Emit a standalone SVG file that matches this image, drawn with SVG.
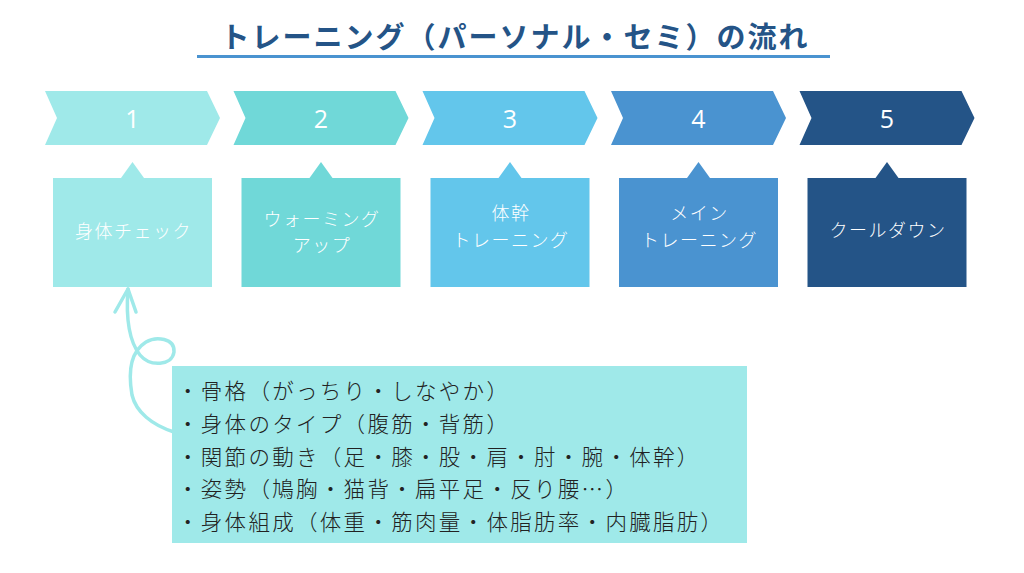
<svg xmlns="http://www.w3.org/2000/svg" xmlns:xlink="http://www.w3.org/1999/xlink" width="1024" height="573" viewBox="0 0 1024 573">
<style>
.title{font-family:"Noto Sans CJK JP","Noto Sans",sans-serif;font-weight:700;font-size:29px;fill:#245487;letter-spacing:2px}
.num{font-family:"Open Sans","Noto Sans",sans-serif;font-size:25px;fill:#ffffff;text-anchor:middle}
.lbl{font-family:"Noto Sans CJK JP","Noto Sans",sans-serif;font-weight:300;font-size:18px;fill:#ffffff;text-anchor:middle;letter-spacing:1.5px}
.item{font-family:"Noto Sans CJK JP","Noto Sans",sans-serif;font-weight:300;font-size:21.5px;fill:#222222;letter-spacing:2.3px}
.c1{fill:#9fe9e9}.c2{fill:#70d8d8}.c3{fill:#63c6eb}.c4{fill:#4a93d0}.c5{fill:#245487}
</style>
<defs>
<polygon id="chev" points="-87.5,91 74.5,91 87.5,118 74.5,145 -87.5,145 -75.5,118"/>
<path id="card" d="M-79.5,178 L-11.5,178 L0,162 L11.5,178 L79.5,178 L79.5,287 L-79.5,287 Z"/>
</defs>
<rect width="1024" height="573" fill="#ffffff"/>
<g id="title">
<text class="title" x="515" y="48" text-anchor="middle">トレーニング（パーソナル・セミ）の流れ</text>
<rect x="197" y="55" width="633" height="3" fill="#4a93d0"/>
</g>
<g id="step1">
<use xlink:href="#chev" href="#chev" x="132.5" class="c1"/>
<text class="num" x="132.5" y="128">1</text>
<use xlink:href="#card" href="#card" x="132.5" class="c1"/>
<text class="lbl" x="133.5" y="238">身体チェック</text>
</g>
<g id="step2">
<use xlink:href="#chev" href="#chev" x="321" class="c2"/>
<text class="num" x="321" y="128">2</text>
<use xlink:href="#card" href="#card" x="321" class="c2"/>
<text class="lbl" x="322" y="226">ウォーミング</text>
<text class="lbl" x="322" y="252">アップ</text>
</g>
<g id="step3">
<use xlink:href="#chev" href="#chev" x="510" class="c3"/>
<text class="num" x="510" y="128">3</text>
<use xlink:href="#card" href="#card" x="510" class="c3"/>
<text class="lbl" x="511" y="220">体幹</text>
<text class="lbl" x="511" y="247">トレーニング</text>
</g>
<g id="step4">
<use xlink:href="#chev" href="#chev" x="698.5" class="c4"/>
<text class="num" x="698.5" y="128">4</text>
<use xlink:href="#card" href="#card" x="698.5" class="c4"/>
<text class="lbl" x="699.5" y="220">メイン</text>
<text class="lbl" x="699.5" y="247">トレーニング</text>
</g>
<g id="step5">
<use xlink:href="#chev" href="#chev" x="887" class="c5"/>
<text class="num" x="887" y="128">5</text>
<use xlink:href="#card" href="#card" x="887" class="c5"/>
<text class="lbl" x="888" y="237">クールダウン</text>
</g>
<g id="connectors" fill="none" stroke="#9fe9e9" stroke-width="3.5" stroke-linecap="round" stroke-linejoin="round">
<path d="M174,432 C152,425 136,412 132,395 C128,372 130,352 146,342 C156,336 175,338 174,352 C172,366 150,367 140,355 C128,340 126,315 128,289"/>
<path d="M115,312 L128,289 L136,312"/>
</g>
<g id="checklist">
<rect x="172" y="366" width="575" height="177" fill="#9fe9e9"/>
<text class="item" x="177" y="399">・骨格（がっちり・しなやか）</text>
<text class="item" x="177" y="432">・身体のタイプ（腹筋・背筋）</text>
<text class="item" x="177" y="465">・関節の動き（足・膝・股・肩・肘・腕・体幹）</text>
<text class="item" x="177" y="497">・姿勢（鳩胸・猫背・扁平足・反り腰…）</text>
<text class="item" x="177" y="530">・身体組成（体重・筋肉量・体脂肪率・内臓脂肪）</text>
</g>
</svg>
